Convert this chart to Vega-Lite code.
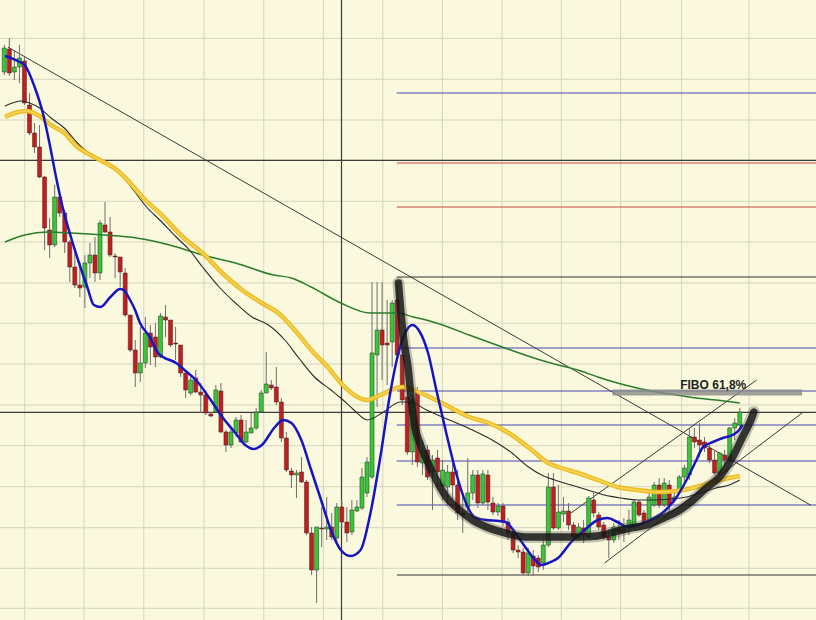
{
"$schema": "https://vega.github.io/schema/vega-lite/v6.json",
"width": 816, "height": 620,
"autosize": {"type": "none"},
"padding": 0,
"background": "#faf8dd",
"config": {"view": {"stroke": null}},
"datasets": {
"vgrid": [{"u":4.06},{"u":15.82},{"u":27.69},{"u":39.65},{"u":51.51},{"u":63.33},{"u":75.14},{"u":86.96},{"u":98.8},{"u":110.57},{"u":122.35},{"u":134.45},{"u":147.84}],
"hgrid": [{"p":581.7},{"p":540.7},{"p":500},{"p":459.7},{"p":418.7},{"p":378},{"p":337},{"p":296.7},{"p":256},{"p":215},{"p":174.3},{"p":133.3},{"p":92.3},{"p":51.7},{"p":11.7}],
"crossh": [{"p":459.7},{"p":207.7}],
"crossv": [{"u":66.94}],
"fib": [
{"u":77.92,"u2":161.5,"p":527,"kind":"blue"},
{"u":77.92,"u2":161.5,"p":457,"kind":"red"},
{"u":77.92,"u2":161.5,"p":413,"kind":"red"},
{"u":77.92,"u2":161.5,"p":343,"kind":"black"},
{"u":77.92,"u2":161.5,"p":272,"kind":"blue"},
{"u":77.92,"u2":161.5,"p":229,"kind":"blue"},
{"u":77.92,"u2":161.5,"p":195,"kind":"blue"},
{"u":77.92,"u2":161.5,"p":159,"kind":"blue"},
{"u":77.92,"u2":161.5,"p":115,"kind":"blue"},
{"u":77.92,"u2":161.5,"p":45,"kind":"black"}],
"trend": [
{"u":0.73,"p":572.8,"u2":160.14,"p2":114.7},
{"u":112.49,"p":107,"u2":149.35,"p2":240},
{"u":119.16,"p":57,"u2":158.37,"p2":207}],
"candles": [
{"i":0,"o":548,"c":572,"h":575,"l":545},
{"i":1,"o":571,"c":547,"h":582,"l":544},
{"i":2,"o":548,"c":553,"h":570,"l":540},
{"i":3,"o":553,"c":562,"h":575,"l":537},
{"i":4,"o":559,"c":517,"h":563,"l":515},
{"i":5,"o":515,"c":487,"h":527,"l":485},
{"i":6,"o":487,"c":473,"h":497,"l":467},
{"i":7,"o":473,"c":443,"h":495,"l":442},
{"i":8,"o":443,"c":392,"h":444,"l":370},
{"i":9,"o":390,"c":375,"h":402,"l":362},
{"i":10,"o":375,"c":423,"h":435,"l":373},
{"i":11,"o":423,"c":407,"h":425,"l":403},
{"i":12,"o":407,"c":378,"h":410,"l":367},
{"i":13,"o":378,"c":353,"h":380,"l":338},
{"i":14,"o":353,"c":335,"h":370,"l":332},
{"i":15,"o":335,"c":332,"h":358,"l":323},
{"i":16,"o":333,"c":357,"h":365,"l":312},
{"i":17,"o":357,"c":365,"h":377,"l":342},
{"i":18,"o":365,"c":347,"h":383,"l":338},
{"i":19,"o":347,"c":397,"h":400,"l":340},
{"i":20,"o":395,"c":388,"h":418,"l":387},
{"i":21,"o":388,"c":365,"h":403,"l":363},
{"i":22,"o":364,"c":363,"h":367,"l":342},
{"i":23,"o":363,"c":348,"h":363,"l":333},
{"i":24,"o":347,"c":305,"h":352,"l":303},
{"i":25,"o":305,"c":270,"h":305,"l":268},
{"i":26,"o":270,"c":247,"h":280,"l":233},
{"i":27,"o":247,"c":257,"h":293,"l":238},
{"i":28,"o":257,"c":287,"h":303,"l":252},
{"i":29,"o":287,"c":273,"h":295,"l":255},
{"i":30,"o":283,"c":263,"h":297,"l":253},
{"i":31,"o":263,"c":304,"h":307,"l":262},
{"i":32,"o":303,"c":300,"h":315,"l":283},
{"i":33,"o":300,"c":275,"h":300,"l":273},
{"i":34,"o":277,"c":276,"h":293,"l":260},
{"i":35,"o":275,"c":247,"h":275,"l":243},
{"i":36,"o":247,"c":230,"h":247,"l":222},
{"i":37,"o":227,"c":240,"h":243,"l":225},
{"i":38,"o":242,"c":228,"h":250,"l":227},
{"i":39,"o":228,"c":225,"h":237,"l":207},
{"i":40,"o":225,"c":207,"h":230,"l":205},
{"i":41,"o":206,"c":204,"h":208,"l":203},
{"i":42,"o":208,"c":230,"h":235,"l":207},
{"i":43,"o":229,"c":188,"h":237,"l":187},
{"i":44,"o":188,"c":175,"h":190,"l":168},
{"i":45,"o":175,"c":188,"h":193,"l":172},
{"i":46,"o":187,"c":200,"h":203,"l":183},
{"i":47,"o":200,"c":178,"h":205,"l":177},
{"i":48,"o":178,"c":188,"h":200,"l":177},
{"i":49,"o":187,"c":192,"h":207,"l":187},
{"i":50,"o":192,"c":208,"h":212,"l":190},
{"i":51,"o":208,"c":227,"h":230,"l":207},
{"i":52,"o":227,"c":236,"h":268,"l":227},
{"i":53,"o":235,"c":232,"h":240,"l":230},
{"i":54,"o":233,"c":218,"h":253,"l":215},
{"i":55,"o":218,"c":182,"h":222,"l":178},
{"i":56,"o":182,"c":150,"h":188,"l":148},
{"i":57,"o":149,"c":145,"h":152,"l":132},
{"i":58,"o":145,"c":147,"h":150,"l":122},
{"i":59,"o":148,"c":138,"h":163,"l":137},
{"i":60,"o":138,"c":87,"h":140,"l":85},
{"i":61,"o":87,"c":50,"h":93,"l":45},
{"i":62,"o":50,"c":93,"h":93,"l":17},
{"i":63,"o":92,"c":91,"h":113,"l":73},
{"i":64,"o":91,"c":93,"h":123,"l":80},
{"i":65,"o":93,"c":83,"h":107,"l":80},
{"i":66,"o":82,"c":113,"h":117,"l":77},
{"i":67,"o":113,"c":98,"h":120,"l":92},
{"i":68,"o":98,"c":87,"h":113,"l":78},
{"i":69,"o":88,"c":110,"h":120,"l":85},
{"i":70,"o":109,"c":113,"h":120,"l":108},
{"i":71,"o":112,"c":143,"h":152,"l":110},
{"i":72,"o":127,"c":158,"h":163,"l":123},
{"i":73,"o":143,"c":267,"h":338,"l":141},
{"i":74,"o":265,"c":290,"h":338,"l":213},
{"i":75,"o":290,"c":275,"h":338,"l":240},
{"i":76,"o":277,"c":275,"h":320,"l":235},
{"i":77,"o":278,"c":317,"h":320,"l":253},
{"i":78,"o":320,"c":265,"h":337,"l":260},
{"i":79,"o":265,"c":220,"h":270,"l":215},
{"i":80,"o":223,"c":168,"h":230,"l":165},
{"i":81,"o":168,"c":220,"h":225,"l":155},
{"i":82,"o":227,"c":158,"h":233,"l":153},
{"i":83,"o":157,"c":170,"h":180,"l":145},
{"i":84,"o":170,"c":143,"h":175,"l":140},
{"i":85,"o":148,"c":160,"h":165,"l":110},
{"i":86,"o":162,"c":148,"h":170,"l":130},
{"i":87,"o":134,"c":150,"h":160,"l":120},
{"i":88,"o":133,"c":148,"h":155,"l":115},
{"i":89,"o":148,"c":135,"h":158,"l":120},
{"i":90,"o":135,"c":107,"h":150,"l":100},
{"i":91,"o":107,"c":105,"h":125,"l":87},
{"i":92,"o":113,"c":127,"h":162,"l":108},
{"i":93,"o":127,"c":145,"h":150,"l":120},
{"i":94,"o":145,"c":117,"h":150,"l":112},
{"i":95,"o":117,"c":146,"h":150,"l":115},
{"i":96,"o":145,"c":118,"h":150,"l":110},
{"i":97,"o":117,"c":108,"h":123,"l":105},
{"i":98,"o":108,"c":114,"h":117,"l":104},
{"i":99,"o":114,"c":98,"h":117,"l":94},
{"i":100,"o":98,"c":87,"h":102,"l":80},
{"i":101,"o":87,"c":70,"h":92,"l":67},
{"i":102,"o":70,"c":68,"h":75,"l":62},
{"i":103,"o":68,"c":47,"h":72,"l":45},
{"i":104,"o":47,"c":67,"h":72,"l":44},
{"i":105,"o":64,"c":54,"h":70,"l":44},
{"i":106,"o":62,"c":53,"h":65,"l":48},
{"i":107,"o":57,"c":75,"h":80,"l":50},
{"i":108,"o":75,"c":133,"h":147,"l":73},
{"i":109,"o":133,"c":92,"h":147,"l":90},
{"i":110,"o":92,"c":108,"h":135,"l":90},
{"i":111,"o":106,"c":109,"h":123,"l":98},
{"i":112,"o":109,"c":95,"h":117,"l":90},
{"i":113,"o":95,"c":83,"h":98,"l":80},
{"i":114,"o":83,"c":93,"h":97,"l":80},
{"i":115,"o":92,"c":85,"h":100,"l":77},
{"i":116,"o":83,"c":122,"h":124,"l":82},
{"i":117,"o":120,"c":107,"h":127,"l":103},
{"i":118,"o":105,"c":93,"h":108,"l":90},
{"i":119,"o":95,"c":83,"h":98,"l":80},
{"i":120,"o":83,"c":80,"h":90,"l":62},
{"i":121,"o":80,"c":93,"h":97,"l":77},
{"i":122,"o":93,"c":88,"h":100,"l":80},
{"i":123,"o":88,"c":94,"h":102,"l":78},
{"i":124,"o":92,"c":100,"h":110,"l":85},
{"i":125,"o":93,"c":118,"h":120,"l":90},
{"i":126,"o":118,"c":105,"h":120,"l":103},
{"i":127,"o":107,"c":98,"h":110,"l":97},
{"i":128,"o":100,"c":123,"h":127,"l":97},
{"i":129,"o":115,"c":135,"h":138,"l":113},
{"i":130,"o":135,"c":115,"h":142,"l":112},
{"i":131,"o":115,"c":137,"h":142,"l":113},
{"i":132,"o":135,"c":115,"h":140,"l":108},
{"i":133,"o":120,"c":123,"h":130,"l":117},
{"i":134,"o":130,"c":143,"h":145,"l":127},
{"i":135,"o":143,"c":152,"h":155,"l":138},
{"i":136,"o":145,"c":183,"h":192,"l":140},
{"i":137,"o":183,"c":178,"h":192,"l":172},
{"i":138,"o":180,"c":175,"h":197,"l":163},
{"i":139,"o":178,"c":172,"h":183,"l":168},
{"i":140,"o":172,"c":160,"h":175,"l":157},
{"i":141,"o":160,"c":147,"h":170,"l":145},
{"i":142,"o":147,"c":167,"h":168,"l":143},
{"i":143,"o":165,"c":160,"h":170,"l":154},
{"i":144,"o":160,"c":192,"h":193,"l":158},
{"i":145,"o":192,"c":197,"h":202,"l":180},
{"i":146,"o":195,"c":208,"h":212,"l":193}],
"blue": [
{"u":0.14,"p":564},{"u":3.08,"p":558},{"u":4.06,"p":555},{"u":6.02,"p":533},{"u":7.65,"p":507},{"u":8.96,"p":477},{"u":10.27,"p":443},{"u":11.57,"p":413},{"u":13.22,"p":383},{"u":14.84,"p":357},{"u":16.47,"p":333},{"u":17.78,"p":315},{"u":19.1,"p":313},{"u":21.06,"p":323},{"u":23.0,"p":331},{"u":23.67,"p":330},{"u":24.98,"p":320},{"u":25.96,"p":310},{"u":26.94,"p":297},{"u":28.9,"p":283},{"u":30.53,"p":267},{"u":31.51,"p":263},{"u":34.12,"p":257},{"u":35.76,"p":250},{"u":38.04,"p":240},{"u":40.98,"p":220},{"u":43.27,"p":203},{"u":45.88,"p":187},{"u":47.84,"p":175},{"u":49.49,"p":171},{"u":51.12,"p":175},{"u":53.73,"p":193},{"u":55.37,"p":200},{"u":57.0,"p":197},{"u":58.96,"p":180},{"u":60.92,"p":150},{"u":62.88,"p":120},{"u":64.84,"p":90},{"u":66.8,"p":70},{"u":68.76,"p":64},{"u":70.73,"p":70},{"u":72.69,"p":107},{"u":74.65,"p":163},{"u":76.61,"p":227},{"u":78.24,"p":267},{"u":79.88,"p":290},{"u":81.06,"p":295},{"u":82.49,"p":288},{"u":84.12,"p":267},{"u":85.76,"p":230},{"u":87.73,"p":187},{"u":89.69,"p":147},{"u":91.65,"p":117},{"u":93.27,"p":103},{"u":95.57,"p":100},{"u":98.18,"p":99},{"u":99.49,"p":98},{"u":101.45,"p":87},{"u":103.41,"p":73},{"u":105.37,"p":60},{"u":106.67,"p":55},{"u":107.98,"p":57},{"u":109.94,"p":62},{"u":112.55,"p":78},{"u":115.18,"p":90},{"u":117.8,"p":100},{"u":119.75,"p":102},{"u":121.7,"p":98},{"u":123.67,"p":93},{"u":125.63,"p":95},{"u":128.24,"p":100},{"u":130.86,"p":108},{"u":133.47,"p":123},{"u":135.43,"p":140},{"u":137.39,"p":160},{"u":138.7,"p":173},{"u":140.67,"p":178},{"u":142.63,"p":182},{"u":144.59,"p":185},{"u":145.88,"p":190},{"u":146.55,"p":195}],
"yellow": [
{"u":0.14,"p":503},{"u":2.75,"p":508},{"u":4.39,"p":509},{"u":6.67,"p":505},{"u":9.29,"p":495},{"u":11.9,"p":487},{"u":14.51,"p":473},{"u":17.14,"p":465},{"u":19.75,"p":458},{"u":22.35,"p":450},{"u":24.98,"p":437},{"u":27.59,"p":422},{"u":30.86,"p":407},{"u":35.43,"p":383},{"u":39.35,"p":367},{"u":43.27,"p":347},{"u":47.2,"p":330},{"u":51.12,"p":317},{"u":54.39,"p":307},{"u":57.65,"p":290},{"u":60.92,"p":270},{"u":64.2,"p":253},{"u":66.8,"p":237},{"u":70.08,"p":223},{"u":72.04,"p":220},{"u":74.65,"p":225},{"u":77.92,"p":232},{"u":79.22,"p":233},{"u":81.18,"p":230},{"u":84.45,"p":223},{"u":88.37,"p":213},{"u":92.29,"p":203},{"u":96.22,"p":197},{"u":100.14,"p":187},{"u":104.71,"p":170},{"u":107.98,"p":157},{"u":109.94,"p":153},{"u":113.86,"p":147},{"u":117.8,"p":140},{"u":121.7,"p":133},{"u":125.63,"p":130},{"u":129.55,"p":128},{"u":133.47,"p":129},{"u":137.39,"p":133},{"u":140.67,"p":138},{"u":143.9,"p":142},{"u":146.0,"p":144}],
"black": [
{"u":0.14,"p":514},{"u":3.41,"p":519},{"u":5.04,"p":517},{"u":7.0,"p":512},{"u":9.29,"p":502},{"u":11.9,"p":492},{"u":14.51,"p":477},{"u":17.78,"p":463},{"u":20.39,"p":457},{"u":23.0,"p":447},{"u":25.63,"p":430},{"u":28.24,"p":413},{"u":30.86,"p":400},{"u":34.12,"p":383},{"u":36.75,"p":370},{"u":39.35,"p":353},{"u":42.63,"p":333},{"u":45.88,"p":317},{"u":49.16,"p":303},{"u":52.43,"p":295},{"u":55.69,"p":280},{"u":58.31,"p":263},{"u":61.57,"p":243},{"u":64.84,"p":230},{"u":66.8,"p":222},{"u":69.41,"p":210},{"u":72.04,"p":200},{"u":75.3,"p":208},{"u":78.57,"p":218},{"u":80.53,"p":218},{"u":83.8,"p":210},{"u":88.37,"p":200},{"u":92.94,"p":190},{"u":96.86,"p":180},{"u":100.78,"p":167},{"u":104.06,"p":153},{"u":106.67,"p":145},{"u":109.29,"p":140},{"u":112.55,"p":135},{"u":115.82,"p":130},{"u":119.1,"p":125},{"u":122.4,"p":122},{"u":125.63,"p":120},{"u":128.9,"p":120},{"u":132.16,"p":121},{"u":135.43,"p":123},{"u":138.7,"p":128},{"u":141.3,"p":132},{"u":143.9,"p":135},{"u":146.0,"p":140}],
"green": [
{"u":0.14,"p":378},{"u":4.06,"p":385},{"u":8.63,"p":388},{"u":13.22,"p":387},{"u":19.75,"p":385},{"u":26.27,"p":382},{"u":32.82,"p":375},{"u":39.35,"p":365},{"u":45.88,"p":357},{"u":53.47,"p":345},{"u":57.0,"p":342},{"u":60.92,"p":333},{"u":66.8,"p":317},{"u":72.69,"p":307},{"u":77.92,"p":307},{"u":81.18,"p":303},{"u":85.76,"p":297},{"u":92.29,"p":285},{"u":98.82,"p":273},{"u":106.41,"p":260},{"u":109.94,"p":255},{"u":113.86,"p":250},{"u":117.8,"p":243},{"u":121.7,"p":237},{"u":125.63,"p":232},{"u":129.55,"p":228},{"u":133.47,"p":225},{"u":137.39,"p":222},{"u":141.3,"p":220},{"u":146.0,"p":217}],
"curve": [
{"u":78.24,"p":337},{"u":78.57,"p":317},{"u":79.22,"p":283},{"u":80.2,"p":250},{"u":80.86,"p":217},{"u":81.51,"p":193},{"u":82.49,"p":177},{"u":84.12,"p":157},{"u":85.76,"p":140},{"u":87.73,"p":123},{"u":90.33,"p":110},{"u":92.94,"p":100},{"u":96.22,"p":92},{"u":99.49,"p":87},{"u":103.41,"p":83},{"u":107.98,"p":83},{"u":113.86,"p":83},{"u":117.8,"p":84},{"u":121.06,"p":88},{"u":124.3,"p":92},{"u":127.6,"p":95},{"u":130.86,"p":102},{"u":134.1,"p":110},{"u":136.75,"p":120},{"u":139.35,"p":132},{"u":141.96,"p":143},{"u":144.59,"p":163},{"u":146.55,"p":183},{"u":148.2,"p":200},{"u":148.8,"p":208}],
"band": [{"u":120.73,"u2":158.37,"p":224.5,"p2":230.5}],
"label": [{"u":140.73,"p":235.5,"t":"FIBO 61,8%"}]
},
"layer": [
{"data":{"name":"vgrid"},"mark":{"type":"rule","color":"#d6d5c0","strokeWidth":1},
 "encoding":{"x":{"field":"u","type":"quantitative","scale":{"domain":[0.14,160.14],"nice":false,"zero":false},"axis":null}}},
{"data":{"name":"hgrid"},"mark":{"type":"rule","color":"#d6d5c0","strokeWidth":1},
 "encoding":{"y":{"field":"p","type":"quantitative","scale":{"domain":[0,620],"nice":false,"zero":false},"axis":null}}},
{"data":{"name":"crossh"},"mark":{"type":"rule","color":"#3c3c3c","strokeWidth":1.3},
 "encoding":{"y":{"field":"p","type":"quantitative","scale":{"domain":[0,620],"nice":false,"zero":false},"axis":null}}},
{"data":{"name":"crossv"},"mark":{"type":"rule","color":"#3c3c3c","strokeWidth":1.2},
 "encoding":{"x":{"field":"u","type":"quantitative","scale":{"domain":[0.14,160.14],"nice":false,"zero":false},"axis":null}}},
{"data":{"name":"fib"},"mark":{"type":"rule","strokeWidth":1.2,"clip":true},
 "encoding":{
  "x":{"field":"u","type":"quantitative","scale":{"domain":[0.14,160.14],"nice":false,"zero":false},"axis":null},
  "x2":{"field":"u2"},
  "y":{"field":"p","type":"quantitative","scale":{"domain":[0,620],"nice":false,"zero":false},"axis":null},
  "color":{"field":"kind","type":"nominal","scale":{"domain":["blue","red","black"],"range":["#4646b4","#c44a3c","#333333"]},"legend":null}}},
{"data":{"name":"trend"},"mark":{"type":"rule","color":"#3a3a3a","strokeWidth":1,"clip":true},
 "encoding":{
  "x":{"field":"u","type":"quantitative","scale":{"domain":[0.14,160.14],"nice":false,"zero":false},"axis":null},
  "x2":{"field":"u2"},
  "y":{"field":"p","type":"quantitative","scale":{"domain":[0,620],"nice":false,"zero":false},"axis":null},
  "y2":{"field":"p2"}}},
{"data":{"name":"candles"},"mark":{"type":"rule","color":"#6e6e6e","strokeWidth":1,"clip":true},
 "encoding":{
  "x":{"field":"i","type":"quantitative","scale":{"domain":[0.14,160.14],"nice":false,"zero":false},"axis":null},
  "y":{"field":"l","type":"quantitative","scale":{"domain":[0,620],"nice":false,"zero":false},"axis":null},
  "y2":{"field":"h"}}},
{"data":{"name":"candles"},"mark":{"type":"bar","width":4,"stroke":"#2a2a2a","strokeWidth":0.5,"clip":true},
 "encoding":{
  "x":{"field":"i","type":"quantitative","scale":{"domain":[0.14,160.14],"nice":false,"zero":false},"axis":null},
  "y":{"field":"o","type":"quantitative","scale":{"domain":[0,620],"nice":false,"zero":false},"axis":null},
  "y2":{"field":"c"},
  "color":{"condition":{"test":"datum.c > datum.o","value":"#36c936"},"value":"#c81c1c"}}},
{"data":{"name":"green"},"mark":{"type":"line","color":"#2a7d2a","strokeWidth":1.5,"interpolate":"monotone","clip":true},
 "encoding":{
  "x":{"field":"u","type":"quantitative","scale":{"domain":[0.14,160.14],"nice":false,"zero":false},"axis":null},
  "y":{"field":"p","type":"quantitative","scale":{"domain":[0,620],"nice":false,"zero":false},"axis":null}}},
{"data":{"name":"black"},"mark":{"type":"line","color":"#2a2a2a","strokeWidth":1.1,"interpolate":"monotone","clip":true},
 "encoding":{
  "x":{"field":"u","type":"quantitative","scale":{"domain":[0.14,160.14],"nice":false,"zero":false},"axis":null},
  "y":{"field":"p","type":"quantitative","scale":{"domain":[0,620],"nice":false,"zero":false},"axis":null}}},
{"data":{"name":"yellow"},"mark":{"type":"line","color":"#edbd22","strokeWidth":4.5,"interpolate":"monotone","clip":true},
 "encoding":{
  "x":{"field":"u","type":"quantitative","scale":{"domain":[0.14,160.14],"nice":false,"zero":false},"axis":null},
  "y":{"field":"p","type":"quantitative","scale":{"domain":[0,620],"nice":false,"zero":false},"axis":null}}},
{"data":{"name":"yellow"},"mark":{"type":"line","color":"#f6d65e","strokeWidth":1.4,"interpolate":"monotone","clip":true},
 "encoding":{
  "x":{"field":"u","type":"quantitative","scale":{"domain":[0.14,160.14],"nice":false,"zero":false},"axis":null},
  "y":{"field":"p","type":"quantitative","scale":{"domain":[0,620],"nice":false,"zero":false},"axis":null}}},
{"data":{"name":"blue"},"mark":{"type":"line","color":"#1515c4","strokeWidth":2.5,"interpolate":"monotone","clip":true},
 "encoding":{
  "x":{"field":"u","type":"quantitative","scale":{"domain":[0.14,160.14],"nice":false,"zero":false},"axis":null},
  "y":{"field":"p","type":"quantitative","scale":{"domain":[0,620],"nice":false,"zero":false},"axis":null}}},
{"data":{"name":"band"},"mark":{"type":"rect","color":"#8a8a8a","opacity":0.8},
 "encoding":{
  "x":{"field":"u","type":"quantitative","scale":{"domain":[0.14,160.14],"nice":false,"zero":false},"axis":null},
  "x2":{"field":"u2"},
  "y":{"field":"p","type":"quantitative","scale":{"domain":[0,620],"nice":false,"zero":false},"axis":null},
  "y2":{"field":"p2"}}},
{"data":{"name":"curve"},"mark":{"type":"line","color":"#4a4a4a","opacity":0.3,"strokeWidth":12,"strokeCap":"round","interpolate":"monotone"},
 "encoding":{
  "x":{"field":"u","type":"quantitative","scale":{"domain":[0.14,160.14],"nice":false,"zero":false},"axis":null},
  "y":{"field":"p","type":"quantitative","scale":{"domain":[0,620],"nice":false,"zero":false},"axis":null}}},
{"data":{"name":"curve"},"mark":{"type":"line","color":"#141414","opacity":0.82,"strokeWidth":7.5,"strokeCap":"round","interpolate":"monotone"},
 "encoding":{
  "x":{"field":"u","type":"quantitative","scale":{"domain":[0.14,160.14],"nice":false,"zero":false},"axis":null},
  "y":{"field":"p","type":"quantitative","scale":{"domain":[0,620],"nice":false,"zero":false},"axis":null}}},
{"data":{"name":"label"},"mark":{"type":"text","font":"Liberation Sans","fontSize":12,"fontWeight":"bold","color":"#222222","align":"center","baseline":"middle"},
 "encoding":{
  "x":{"field":"u","type":"quantitative","scale":{"domain":[0.14,160.14],"nice":false,"zero":false},"axis":null},
  "y":{"field":"p","type":"quantitative","scale":{"domain":[0,620],"nice":false,"zero":false},"axis":null},
  "text":{"field":"t"}}}
]
}
